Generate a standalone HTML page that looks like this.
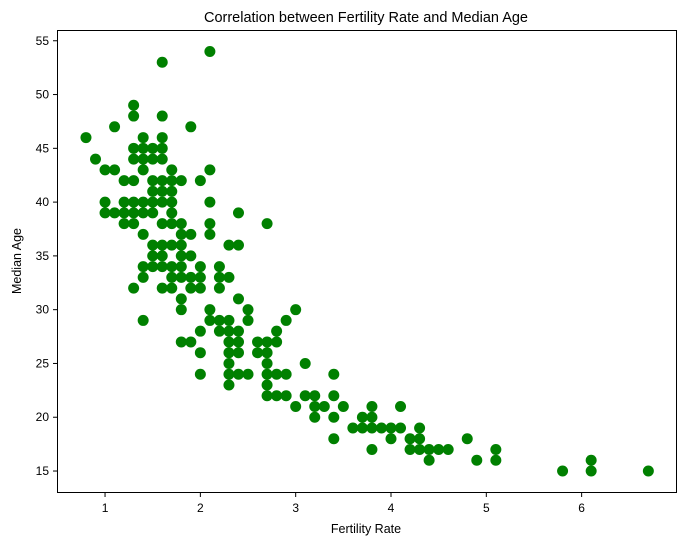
<!DOCTYPE html>
<html><head><meta charset="utf-8"><style>
body{margin:0;background:#fff;font-family:"Liberation Sans","DejaVu Sans",sans-serif;}
svg text{font-family:"Liberation Sans","DejaVu Sans",sans-serif;fill:#000;}
</style></head><body>
<svg id="chart" width="687" height="545" xmlns="http://www.w3.org/2000/svg">
<text x="366" y="22" font-size="14.5" text-anchor="middle">Correlation between Fertility Rate and Median Age</text>
<g id="plot"></g>
<rect x="57.5" y="30.5" width="619" height="462" fill="none" stroke="#000" stroke-width="1"/>
<text x="366" y="533" font-size="12.5" text-anchor="middle">Fertility Rate</text>
<text transform="translate(21,261) rotate(-90)" font-size="12.5" text-anchor="middle">Median Age</text>
</svg>
<script>
const fertility=[0.8,0.9,1.0,1.0,1.0,1.1,1.1,1.1,1.2,1.2,1.2,1.2,1.3,1.3,1.3,1.3,1.3,1.3,1.3,1.3,1.3,1.4,1.4,1.4,1.4,1.4,1.4,1.4,1.4,1.4,1.4,1.5,1.5,1.5,1.5,1.5,1.5,1.5,1.5,1.5,1.6,1.6,1.6,1.6,1.6,1.6,1.6,1.6,1.6,1.6,1.6,1.6,1.6,1.7,1.7,1.7,1.7,1.7,1.7,1.7,1.7,1.7,1.7,1.8,1.8,1.8,1.8,1.8,1.8,1.8,1.8,1.8,1.8,1.9,1.9,1.9,1.9,1.9,1.9,2.0,2.0,2.0,2.0,2.0,2.0,2.0,2.1,2.1,2.1,2.1,2.1,2.1,2.1,2.2,2.2,2.2,2.2,2.2,2.3,2.3,2.3,2.3,2.3,2.3,2.3,2.3,2.3,2.4,2.4,2.4,2.4,2.4,2.4,2.4,2.5,2.5,2.5,2.6,2.6,2.7,2.7,2.7,2.7,2.7,2.7,2.7,2.8,2.8,2.8,2.8,2.9,2.9,2.9,3.0,3.0,3.1,3.1,3.2,3.2,3.2,3.3,3.4,3.4,3.4,3.4,3.5,3.6,3.7,3.7,3.8,3.8,3.8,3.8,3.9,4.0,4.0,4.1,4.1,4.2,4.2,4.3,4.3,4.3,4.4,4.4,4.5,4.6,4.8,4.9,5.1,5.1,5.8,6.1,6.1,6.7];
const medianAge=[46,44,43,40,39,47,43,39,42,40,39,38,49,48,45,44,42,40,39,38,32,46,45,44,43,40,39,37,34,33,29,45,44,42,41,40,39,36,35,34,53,48,46,45,44,42,41,40,38,36,35,34,32,43,42,41,40,39,38,36,34,33,32,42,38,37,36,35,34,33,31,30,27,47,37,35,33,32,27,42,34,33,32,28,26,24,54,43,40,38,37,30,29,34,33,32,29,28,36,33,29,28,27,26,25,24,23,39,36,31,28,27,26,24,30,29,24,27,26,38,27,26,25,24,23,22,28,27,24,22,29,24,22,30,21,25,22,22,21,20,21,24,22,20,18,21,19,20,19,21,20,19,17,19,19,18,21,19,18,17,19,18,17,17,16,17,17,18,16,17,16,15,16,15,15];
const xTicks=[1,2,3,4,5,6];
const yTicks=[15,20,25,30,35,40,45,50,55];
const X0=57,X1=676,Y0=492,Y1=30,xMin=0.496,xMax=6.99,yMin=13.05,yMax=56.0;
const xs=v=>X0+(v-xMin)/(xMax-xMin)*(X1-X0);
const ys=v=>Y0-(v-yMin)/(yMax-yMin)*(Y0-Y1);
const NS="http://www.w3.org/2000/svg";
const svg=document.getElementById('chart');
const plot=document.getElementById('plot');
function mk(t,a){const e=document.createElementNS(NS,t);for(const k in a)e.setAttribute(k,a[k]);return e;}
xTicks.forEach(t=>{
 const x=xs(t);
 const l=mk('line',{x1:x,x2:x,y1:492.5,y2:497,stroke:'#000'});
 
 
 svg.appendChild(l);
 const tx=mk('text',{x:x,y:512,'font-size':12,'text-anchor':'middle'});
 
 
 tx.textContent=t;svg.appendChild(tx);
});
yTicks.forEach(t=>{
 const y=ys(t);
 const l=mk('line',{x1:53,x2:57.5,y1:y,y2:y,stroke:'#000'});
 
 
 svg.appendChild(l);
 const tx=mk('text',{x:49,y:y+4,'font-size':12,'text-anchor':'end'});
 
 
 tx.textContent=t;svg.appendChild(tx);
});
fertility.forEach((f,i)=>{
 const c=mk('circle',{cx:xs(f),cy:ys(medianAge[i]),r:5.5,fill:'#008000'});
 
 
 plot.appendChild(c);
});
</script>
</body></html>
